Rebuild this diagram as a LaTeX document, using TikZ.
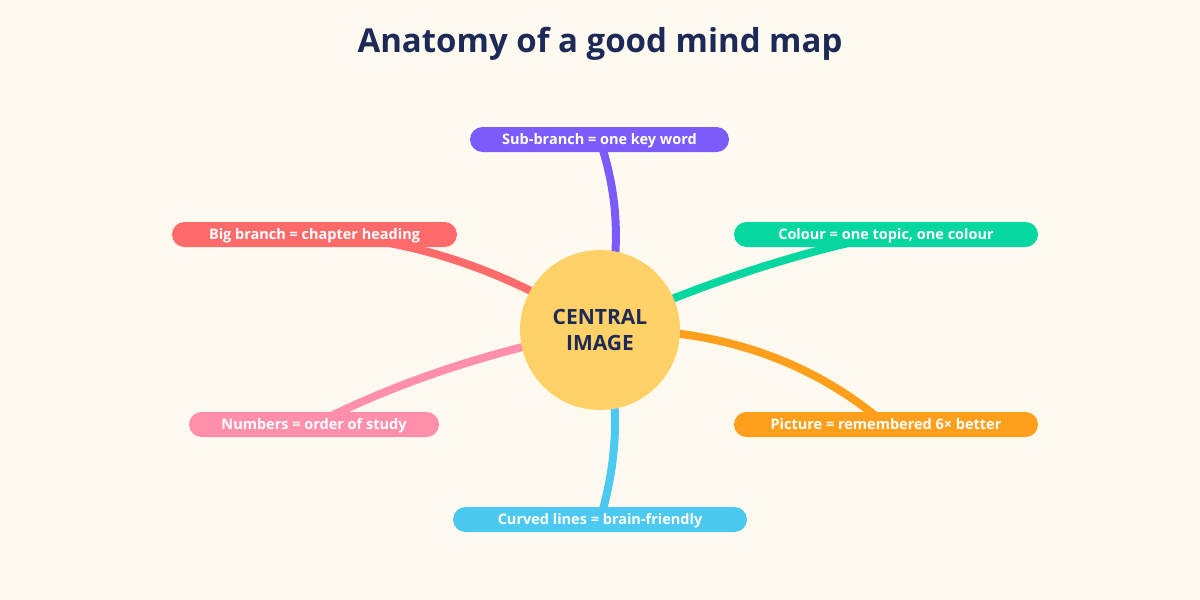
\documentclass[tikz,border=0pt]{standalone}
\usepackage{fontspec}
\setmainfont{Open Sans}
\usetikzlibrary{backgrounds}
\definecolor{bgc}{HTML}{FFFAEF}
\definecolor{navy}{HTML}{1D2A57}
\definecolor{centc}{HTML}{FFD166}
\definecolor{cpurple}{HTML}{7B5CFA}
\definecolor{cred}{HTML}{FF6B6B}
\definecolor{cpink}{HTML}{FF8FAB}
\definecolor{cgreen}{HTML}{06D6A0}
\definecolor{corange}{HTML}{FF9F1C}
\definecolor{cblue}{HTML}{4CC9F0}
\tikzset{
  pill/.style={fill=#1, draw=none, rounded corners=12.5pt, minimum height=25pt, inner sep=0pt,
    text height=10.3pt, text depth=0pt,
    text=white, font=\fontsize{14.5}{16}\selectfont\bfseries},
  branch/.style={draw=#1, line width=8pt, line cap=round},
}
\begin{document}
\begin{tikzpicture}[x=1pt,y=-1pt]
\node[font=\fontsize{33}{38}\selectfont\bfseries, text=navy, anchor=base, inner sep=0pt] (title) at (600,52.3) {Anatomy of a good mind map};
\node[circle, fill=centc, minimum size=160pt, inner sep=0pt, align=center, text=navy,
  font=\fontsize{21}{26.7}\selectfont\bfseries] (c) at (600,330) {CENTRAL\\IMAGE};
\node[pill=cpurple, minimum width=259pt] (sub) at (599.5,139.5) {Sub-branch = one key word};
\node[pill=cred, minimum width=285pt] (big) at (314.5,234.5) {Big branch = chapter heading};
\node[pill=cpink, minimum width=250pt] (num) at (314,424.5) {Numbers = order of study};
\node[pill=cgreen, minimum width=304pt] (col) at (886,234.5) {Colour = one topic, one colour};
\node[pill=corange, minimum width=304pt] (pic) at (886,424.5) {Picture = remembered 6× better};
\node[pill=cblue, minimum width=294pt] (cur) at (600,519.5) {Curved lines = brain-friendly};
\begin{scope}[on background layer]
\fill[bgc] (0,0) rectangle (1200,600);
\draw[branch=cpurple] (c.center) .. controls (621.3,266.7) and (621.3,203) .. (sub.center);
\draw[branch=cred] (c.center) .. controls (506.7,270) and (411.3,238.3) .. (big.center);
\draw[branch=cpink] (c.center) .. controls (493.3,350) and (398,381.5) .. (num.center);
\draw[branch=cgreen] (c.center) .. controls (693.3,286.7) and (788.7,254.8) .. (col.center);
\draw[branch=corange] (c.center) .. controls (713.3,326.7) and (808.7,358.2) .. (pic.center);
\draw[branch=cblue] (c.center) .. controls (620,390) and (620,453.2) .. (cur.center);
\end{scope}
\end{tikzpicture}
\end{document}
